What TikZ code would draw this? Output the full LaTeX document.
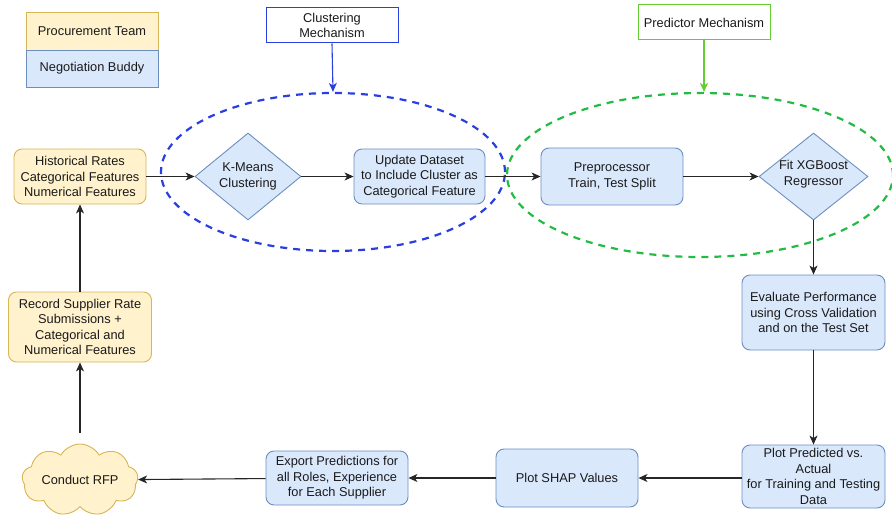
\documentclass[tikz,border=0pt]{standalone}
\usepackage{fontspec}
\setmainfont{Liberation Sans}
\usetikzlibrary{shapes.geometric,shapes.symbols,arrows.meta}
\definecolor{bluefill}{HTML}{DAE8FC}
\definecolor{bluedraw}{HTML}{6C8EBF}
\definecolor{orfill}{HTML}{FFF2CC}
\definecolor{ordraw}{HTML}{D6B656}
\definecolor{clublue}{HTML}{2A3FE0}
\definecolor{predgreen}{HTML}{66CC33}
\definecolor{ringgreen}{HTML}{22BB44}
\definecolor{txt}{HTML}{1A1A1A}
\tikzset{
  every node/.style={font=\fontsize{12.8}{15.4}\selectfont, text=txt, align=center},
  bluebox/.style={draw=bluedraw, fill=bluefill, rounded corners=8pt, line width=0.9pt, inner sep=0pt},
  orbox/.style={draw=ordraw, fill=orfill, rounded corners=8pt, line width=0.9pt, inner sep=0pt},
  bluediamond/.style={diamond, draw=bluedraw, fill=bluefill, line width=0.9pt, inner sep=0pt, aspect=1.22},
  flow/.style={-{Stealth[length=9pt,width=8pt,inset=2.5pt]}, line width=1.1pt, draw=black!85},
  ring/.style={ellipse, dashed, dash pattern=on 7pt off 6pt, line width=2.2pt, inner sep=0pt},
  tag/.style={draw, fill=white, line width=1pt, inner sep=0pt}
}
\begin{document}
\begin{tikzpicture}[x=1pt,y=-1pt]
\useasboundingbox (0,0) rectangle (892,519);

% legend
\node[orbox, rounded corners=0pt, minimum width=132pt, minimum height=38pt] (legproc) at (92,31) {Procurement Team};
\node[bluebox, rounded corners=0pt, minimum width=132pt, minimum height=37pt] (legneg) at (92,68.5) {Negotiation Buddy};

% dashed groupings
\node[ring, draw=clublue, minimum width=344pt, minimum height=158pt] (clring) at (333,172) {};
\node[ring, draw=ringgreen, minimum width=386pt, minimum height=164pt] (prring) at (700,175) {};

% group labels
\node[tag, draw=clublue, minimum width=132pt, minimum height=35pt] (cllabel) at (332,25.5) {Clustering\\Mechanism};
\node[tag, draw=predgreen, minimum width=132pt, minimum height=35pt] (prlabel) at (704,22.5) {Predictor Mechanism};
\draw[-{Stealth[length=9pt,width=8pt,inset=2.5pt]}, line width=1.1pt, clublue] (cllabel.south) -- (clring.north);
\draw[-{Stealth[length=9pt,width=8pt,inset=2.5pt]}, line width=1.1pt, predgreen] (prlabel.south) -- (prlabel.south |- prring.north);

% process steps
\node[orbox, minimum width=132pt, minimum height=55pt] (hist) at (80,176.5) {Historical Rates\\Categorical Features\\Numerical Features};
\node[bluediamond, minimum width=106pt, minimum height=87pt] (kmeans) at (248,176.5) {K-Means\\Clustering};
\node[bluebox, minimum width=131pt, minimum height=55pt] (update) at (419.5,176.5) {Update Dataset\\to Include Cluster as\\Categorical Feature};
\node[bluebox, minimum width=142pt, minimum height=57pt] (prep) at (612,176.5) {Preprocessor\\Train, Test Split};
\node[bluediamond, minimum width=109pt, minimum height=87pt] (xgb) at (813.5,176.5) {};
\node[anchor=center] (xgbtext) at (813.5,174) {Fit XGBoost\\Regressor};
\node[bluebox, minimum width=143pt, minimum height=75pt] (eval) at (813.5,312.5) {Evaluate Performance\\using Cross Validation\\and on the Test Set};
\node[bluebox, minimum width=143pt, minimum height=63pt] (plotpa) at (813.5,476.5) {Plot Predicted vs.\\Actual\\for Training and Testing\\Data};
\node[bluebox, minimum width=142pt, minimum height=58pt] (shap) at (567,478) {Plot SHAP Values};
\node[bluebox, minimum width=142pt, minimum height=54pt] (export) at (337,478) {Export Predictions for\\all Roles, Experience\\for Each Supplier};
\node[cloud, cloud puffs=9, cloud puff arc=120, cloud ignores aspect, draw=ordraw, fill=orfill, line width=0.9pt, inner sep=0pt, minimum width=116pt, minimum height=72pt] (rfp) at (80,480) {Conduct RFP};
\node[orbox, minimum width=143pt, minimum height=70pt] (record) at (80,327) {Record Supplier Rate\\Submissions +\\Categorical and\\Numerical Features};
\coordinate (rfptop) at (80,433);

% connectors
\draw[flow] (hist) -- (kmeans);
\draw[flow] (kmeans) -- (update);
\draw[flow] (update) -- (prep);
\draw[flow] (prep) -- (xgb);
\draw[flow] (xgb) -- (eval);
\draw[flow] (eval) -- (plotpa);
\draw[flow] (plotpa.west |- shap.east) -- (shap.east);
\draw[flow] (shap) -- (export);
\draw[flow] (export) -- (rfp);
\draw[flow] (rfptop) -- (record);
\draw[flow] (record) -- (hist);
\end{tikzpicture}
\end{document}
